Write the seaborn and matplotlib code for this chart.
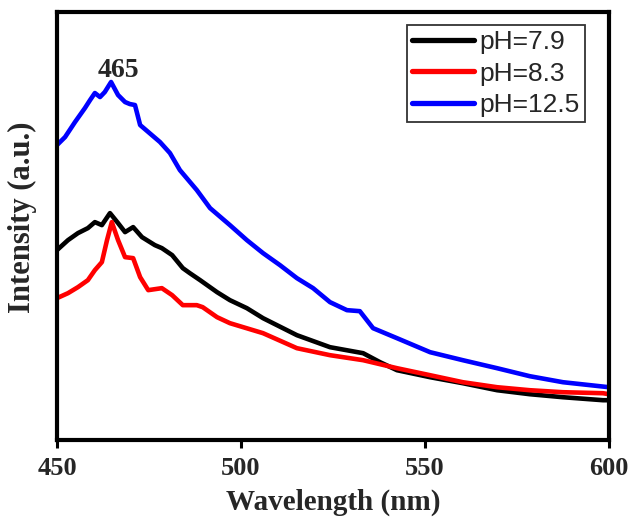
import matplotlib
matplotlib.use("Agg")
import matplotlib.pyplot as plt
import numpy as np
import pandas as pd
import seaborn as sns

# ──────────────────────────────────────────────
# Dados (comprimento de onda em nm, intensidade em u.a.)
# ──────────────────────────────────────────────
wl_79 = [450, 453.0, 455.7, 458.4, 460.3, 462.2, 464.4, 466.6, 468.5, 470.7,
         473.1, 476.6, 478.5, 481.3, 484.2, 486.1, 488.9, 493.5, 497.0, 501.6,
         506.0, 515.2, 524.2, 533.2, 537.8, 542.4, 551.4, 560.3, 569.6, 578.5,
         587.5, 598.4, 600]
int_79 = [190, 200, 207, 212, 218, 215, 227, 217, 208, 213,
          203, 195, 192, 185, 172, 167, 160, 148, 140, 132,
          122, 105, 93, 87, 78, 70, 63, 57, 50, 46,
          43, 40, 40]

wl_83 = [450, 453.0, 455.7, 458.4, 460.3, 462.2, 463.6, 464.9, 466.6, 468.5,
         470.7, 472.6, 474.8, 478.5, 481.3, 484.2, 488.0, 489.6, 493.5, 497.0,
         506.0, 515.2, 524.2, 533.2, 542.4, 551.4, 560.3, 569.6, 578.5, 587.5,
         598.4, 600]
int_83 = [142, 147, 153, 160, 170, 178, 200, 218, 200, 183,
          182, 163, 150, 152, 145, 135, 135, 133, 123, 117,
          107, 92, 85, 80, 72, 65, 58, 53, 50, 48,
          47, 46]

wl_125 = [450, 452.2, 454.9, 457.6, 459.0, 460.3, 461.7, 463.0, 464.7, 466.6,
          468.5, 469.8, 471.2, 472.6, 478.0, 480.7, 483.4, 488.0, 491.6, 497.0,
          501.6, 506.0, 510.6, 515.2, 519.6, 524.2, 528.8, 532.3, 535.9, 542.4,
          551.4, 560.3, 569.6, 578.5, 587.5, 600]
int_125 = [295, 303, 318, 332, 340, 347, 343, 348, 358, 345,
           338, 336, 335, 315, 298, 287, 270, 250, 232, 215,
           200, 187, 175, 162, 152, 138, 130, 129, 112, 102,
           88, 80, 72, 64, 58, 53]

rotulos = ["pH=7.9", "pH=8.3", "pH=12.5"]
cores = ["black", "red", "blue"]

df = pd.concat([
    pd.DataFrame({"wl": wl_79, "intensidade": int_79, "amostra": rotulos[0]}),
    pd.DataFrame({"wl": wl_83, "intensidade": int_83, "amostra": rotulos[1]}),
    pd.DataFrame({"wl": wl_125, "intensidade": int_125, "amostra": rotulos[2]}),
], ignore_index=True)

# ──────────────────────────────────────────────
# Figura
# ──────────────────────────────────────────────
sns.set_style("white")
plt.rcParams["font.family"] = ["Liberation Serif", "DejaVu Serif"]

fig = plt.figure(figsize=(6.33, 5.21), dpi=100)
ax = fig.add_axes([0.090, 0.155, 0.872, 0.822])

sns.lineplot(data=df, x="wl", y="intensidade", hue="amostra",
             palette=dict(zip(rotulos, cores)), linewidth=3.3, ax=ax)

ax.set_xlim(450, 600)
ax.set_ylim(0, 428)
ax.set_xticks([450, 500, 550, 600])
ax.set_yticks([])
ax.tick_params(axis="x", bottom=True, direction="out", length=6, width=2.2,
               color="black", labelsize=19, pad=6)
for lbl in ax.get_xticklabels():
    lbl.set_fontweight("bold")

for spine in ax.spines.values():
    spine.set_linewidth(3)
    spine.set_color("black")

ax.set_xlabel("Wavelength (nm)", fontsize=21, fontweight="bold", labelpad=6)
ax.set_ylabel("Intensity (a.u.)", fontsize=22, fontweight="bold")
ax.yaxis.set_label_coords(-0.036, 0.52)

ax.text(466.6, 370, "465", ha="center", va="center",
        fontsize=20, fontweight="bold")

leg = ax.legend(loc="upper right", bbox_to_anchor=(0.9565, 0.9696),
                frameon=True, fancybox=False, edgecolor="black",
                prop={"family": "Liberation Sans", "size": 19},
                handlelength=2.35, handletextpad=0.2, borderpad=0.2,
                labelspacing=0.28, borderaxespad=0)
leg.get_frame().set_linewidth(1.3)
for linha in leg.get_lines():
    linha.set_linewidth(3.8)

plt.savefig("out.png", dpi=100)
plt.close(fig)
